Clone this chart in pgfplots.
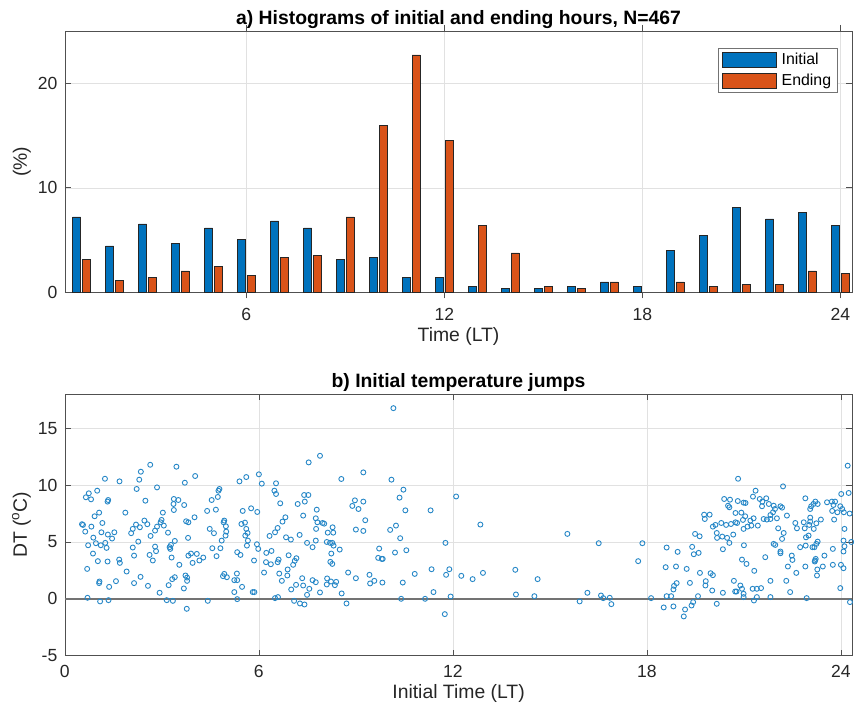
\documentclass[border=0pt]{standalone}
\usepackage{pgfplots}
\pgfplotsset{compat=1.18}
\usepackage{pgfplotstable}
\usepackage{fontspec}
\setmainfont{Liberation Sans}
\definecolor{mblue}{RGB}{0,114,189}
\definecolor{morange}{RGB}{217,83,25}
\definecolor{mgrid}{RGB}{225,225,225}
\definecolor{maxis}{RGB}{80,80,80}

\pgfplotstableread{
h init
1 7.22
2 4.45
3 6.55
4 4.68
5 6.17
6 5.09
7 6.84
8 6.17
9 3.15
10 3.37
11 1.46
12 1.46
13 0.54
14 0.35
15 0.35
16 0.54
17 1.01
18 0.54
19 4.04
20 5.47
21 8.12
22 7.03
23 7.64
24 6.40
}\initdata

\pgfplotstableread{
h ending
1 3.15
2 1.17
3 1.46
4 2.06
5 2.48
6 1.65
7 3.37
8 3.53
9 7.22
10 16.0
11 22.7
12 14.55
13 6.40
14 3.78
15 0.54
16 0.35
17 1.01
19 1.01
20 0.54
21 0.76
22 0.76
23 2.06
24 1.81
}\enddata

\pgfplotstableread{
t dt
2.64 11.79
3.45 11.62
2.35 11.18
1.24 10.56
1.69 10.33
2.30 10.48
3.71 10.21
2.85 9.80
2.22 9.66
1.00 9.51
0.74 9.28
0.65 8.93
0.81 8.75
1.34 8.69
1.32 8.55
2.49 8.63
3.37 8.78
3.51 8.69
3.36 8.34
3.69 8.25
1.87 7.58
1.06 7.58
0.92 7.26
3.03 7.58
3.37 7.81
0.53 6.56
0.56 6.50
0.82 6.35
1.16 6.67
2.46 6.88
2.20 6.53
2.55 6.56
2.99 6.94
2.96 6.73
3.75 6.82
3.82 6.73
0.63 5.91
2.10 6.15
2.32 6.29
2.85 6.35
3.06 6.44
2.79 6.00
1.13 5.85
1.53 5.85
1.33 5.65
2.05 5.77
2.65 5.53
3.19 5.82
0.88 5.38
1.46 5.30
0.96 4.89
1.11 4.71
1.25 4.92
0.72 4.71
1.29 4.48
2.27 5.03
3.40 5.09
3.81 5.36
2.10 4.51
2.79 4.59
3.28 4.74
3.24 4.54
3.26 4.39
0.87 3.98
2.14 3.80
2.62 3.86
2.82 4.19
2.72 3.37
3.30 3.63
1.02 3.31
1.32 3.28
1.68 3.45
1.70 3.16
3.54 2.99
3.82 3.80
3.90 3.98
0.69 2.63
1.91 2.40
2.34 1.93
1.07 1.52
1.06 1.38
1.58 1.55
3.40 1.90
3.32 1.73
3.73 2.05
3.78 1.87
3.78 1.58
1.37 1.05
2.14 1.38
2.57 1.14
3.21 1.20
3.68 0.91
2.93 0.53
0.70 0.09
1.09 -0.23
1.35 -0.12
3.15 -0.12
3.34 -0.18
3.77 -0.88
7.54 12.00
4.03 10.80
5.40 10.33
5.61 10.71
6.00 10.95
6.09 10.13
6.53 10.16
4.78 9.66
4.75 9.51
6.48 9.51
6.53 9.22
7.40 9.13
7.53 9.13
4.54 8.69
4.73 8.96
6.66 8.40
7.42 8.55
7.20 8.34
4.40 7.73
4.67 7.84
5.50 7.73
5.76 7.96
5.95 7.64
4.01 7.17
7.37 7.32
7.79 7.84
4.93 6.88
4.91 6.73
5.46 6.58
5.57 6.70
6.82 7.17
6.73 6.79
7.76 7.08
7.81 6.73
4.48 6.15
4.61 5.77
4.98 6.38
4.99 5.91
4.97 5.56
5.61 6.15
5.65 5.79
5.58 5.56
6.58 6.23
6.50 5.85
6.33 5.53
6.84 5.41
6.99 5.21
7.26 5.62
7.77 6.15
4.85 5.12
4.56 4.45
4.81 4.45
5.66 5.12
5.63 4.68
5.94 4.80
5.98 4.39
7.49 4.92
7.66 4.54
7.76 5.12
4.08 3.95
4.28 3.63
4.16 3.37
3.95 3.16
4.69 3.75
5.33 4.10
5.43 3.86
6.23 4.04
6.39 4.21
5.85 3.37
6.22 3.22
6.37 3.04
6.61 3.45
6.58 3.22
6.92 3.83
7.16 3.57
7.11 3.34
7.06 2.99
4.93 2.19
4.89 1.99
5.01 1.90
5.32 2.22
5.24 1.64
5.33 1.64
6.16 2.31
6.63 2.22
6.89 2.58
6.88 2.05
6.71 1.58
7.34 1.81
7.66 1.64
7.76 1.46
5.48 1.05
5.24 0.59
5.81 0.59
5.86 0.59
7.15 1.23
7.00 0.82
7.37 1.17
7.56 0.88
7.49 0.35
4.42 -0.18
5.33 -0.03
6.50 0.06
6.59 0.15
7.09 -0.18
7.27 -0.41
7.41 -0.50
10.16 16.77
7.89 12.58
9.23 11.12
8.55 10.54
10.10 10.48
10.47 9.60
10.35 8.90
8.97 8.66
9.23 8.55
8.89 8.17
9.08 7.90
10.53 7.78
11.31 7.78
7.97 6.67
8.02 6.61
8.28 6.29
8.13 5.82
8.30 5.82
9.29 6.91
9.00 6.09
9.23 5.97
10.24 6.44
10.06 6.06
10.37 5.33
8.10 5.00
8.20 4.92
8.31 4.68
8.27 4.92
8.50 4.33
8.24 3.98
8.21 3.25
8.27 3.07
9.72 4.42
9.69 3.60
9.80 3.51
9.83 3.51
10.21 4.07
10.56 4.27
11.77 4.92
8.76 2.31
9.00 1.81
9.42 2.11
9.57 1.58
9.44 1.35
9.82 1.43
10.82 2.19
11.34 2.60
11.79 2.11
11.89 2.60
8.11 1.79
8.10 1.26
8.23 1.52
8.39 1.49
8.35 1.20
7.89 0.56
8.56 0.47
8.71 -0.41
10.45 1.43
11.40 0.59
10.40 0.00
11.14 0.00
11.93 0.20
11.75 -1.35
12.10 9.00
12.85 6.53
15.54 5.71
16.51 4.89
17.86 4.89
17.73 3.31
13.93 2.55
12.93 2.28
12.26 2.02
12.61 1.73
14.62 1.73
13.95 0.38
14.52 0.23
16.16 0.53
15.92 -0.23
16.58 0.29
16.65 0.06
16.85 0.09
16.90 -0.47
20.82 10.56
20.39 8.78
20.57 8.72
20.81 8.60
20.99 8.46
21.05 8.43
20.51 8.19
20.55 8.05
20.74 7.55
20.92 7.58
19.77 7.40
19.94 7.40
19.79 7.02
20.12 6.50
20.04 6.35
20.30 6.67
20.45 6.50
20.60 6.58
20.74 6.73
20.79 6.67
20.97 6.94
21.04 7.26
19.49 5.71
19.63 5.50
20.16 5.79
20.17 5.36
20.33 5.47
20.48 5.36
20.55 4.92
20.67 5.65
20.99 6.15
21.11 6.35
18.61 4.51
18.95 4.13
19.40 4.57
19.60 4.04
19.45 3.92
20.35 4.36
21.00 4.71
18.58 2.78
18.90 2.84
19.23 2.63
19.64 2.28
19.97 2.25
20.04 2.08
20.94 3.45
21.08 3.07
19.33 1.40
19.82 1.55
19.81 1.17
18.92 1.38
18.84 1.14
18.82 0.82
20.02 0.73
20.35 0.53
20.69 1.58
20.89 1.17
20.94 0.88
20.73 0.64
20.77 0.64
20.99 0.44
19.58 0.23
18.75 0.23
18.61 0.23
18.13 0.06
18.52 -0.76
18.82 -0.67
19.18 -0.94
19.14 -1.55
19.38 -0.59
19.43 -0.29
20.16 -0.44
20.99 0.15
24.21 11.71
22.21 9.89
21.36 9.51
21.28 8.99
21.49 8.78
21.69 8.84
21.57 8.55
21.56 8.14
21.77 8.34
21.92 8.19
21.96 7.90
22.13 8.14
22.18 8.02
21.90 7.61
21.82 7.37
22.90 8.84
23.21 8.55
23.15 8.34
23.08 8.14
23.05 7.90
23.28 8.34
23.57 8.49
23.72 8.55
23.82 8.55
23.77 8.25
23.98 8.14
24.04 7.90
24.01 9.22
24.24 9.31
23.89 7.61
23.73 7.73
21.20 6.88
21.30 7.08
21.43 6.44
21.23 6.44
21.61 7.02
21.71 6.97
21.82 7.02
22.02 7.08
22.33 7.32
22.59 6.67
22.64 6.20
22.85 6.73
22.88 6.20
23.05 6.79
23.05 7.14
23.02 6.50
23.24 6.64
23.38 6.97
23.16 6.15
23.79 6.97
24.09 7.61
24.11 6.15
22.06 6.20
22.23 5.79
22.18 5.27
21.92 4.83
21.97 4.74
22.92 5.41
23.00 5.56
22.91 4.68
23.24 4.83
23.28 5.03
23.12 4.54
23.18 4.54
23.49 3.80
22.74 4.54
22.13 4.16
22.13 4.01
22.48 3.80
22.50 3.42
21.66 3.66
23.75 4.39
24.08 5.12
24.11 4.62
24.08 4.16
21.32 2.46
22.36 2.84
22.62 2.28
22.90 2.84
23.20 3.37
23.22 3.51
23.19 3.28
23.27 2.58
23.26 2.05
23.44 2.84
23.75 2.99
24.00 2.99
24.08 2.69
21.82 1.58
22.31 1.58
21.27 0.88
21.40 0.88
21.53 0.94
22.43 0.59
23.98 0.94
21.31 -0.15
21.40 0.15
21.82 0.15
22.94 0.06
24.28 -0.29
24.27 7.50
24.32 5.00
}\scatdata

\pgfplotsset{
  mstyle/.style={
    scale only axis,
    axis line style={maxis, line width=0.7pt},
    tick style={maxis, line width=0.7pt},
    major tick length=6pt,
    tick align=inside,
    grid=major,
    major grid style={mgrid, line width=0.6pt},
    /pgf/number format/assume math mode=true,
    tick label style={font=\fontsize{17.6}{20}\selectfont, text=black!85},
    xticklabel style={yshift=-6pt},
    yticklabel style={xshift=-4pt},
    label style={font=\fontsize{19.4}{22}\selectfont, text=black!85},
    title style={font=\fontsize{19.4}{22}\selectfont\bfseries, text=black, yshift=-7pt},
  },
  barlegend/.style={legend image code/.code={\draw[##1] (0pt,-7.5pt) rectangle (54pt,7.5pt);}},
}

\begin{document}
\begin{tikzpicture}
\path (0pt,0pt) rectangle (854pt,709pt);

\begin{axis}[mstyle,
  at={(65pt,416pt)}, anchor=south west,
  width=789pt, height=262pt,
  xmin=0.5, xmax=24.36, ymin=0, ymax=25,
  xtick={6,12,18,24}, ytick={0,10,20},
  ybar, bar width=0.24,
  title={a) Histograms of initial and ending hours, N=467},
  xlabel={Time (LT)}, ylabel={(\%)},
  legend style={at={(0.981,0.935)}, anchor=north east, draw=black!55,
    font=\fontsize{15.9}{18}\selectfont, row sep=5pt, column sep=3pt,
    inner xsep=4pt, inner ysep=4pt,
    nodes={inner xsep=2pt, inner ysep=0pt},
    cells={anchor=west}},
]
\addplot[fill=mblue, draw=black!85, line width=0.5pt, bar shift=-0.145, barlegend]
  table[x=h, y=init] {\initdata};
\addlegendentry{Initial}
\addplot[fill=morange, draw=black!85, line width=0.5pt, bar shift=0.145, barlegend]
  table[x=h, y=ending] {\enddata};
\addlegendentry{Ending}
\end{axis}

\begin{axis}[mstyle,
  at={(65pt,52pt)}, anchor=south west,
  width=789pt, height=262pt,
  xmin=0, xmax=24.35, ymin=-5, ymax=18,
  xtick={0,6,12,18,24}, ytick={-5,0,5,10,15},
  title={b) Initial temperature jumps},
  xlabel={Initial Time (LT)}, ylabel={DT (\textsuperscript{o}C)},
]
\addplot[black!55, line width=1.8pt, forget plot] coordinates {(0,0) (24.35,0)};
\addplot[only marks, mark=o, mark size=2.5pt, color=mblue!85!white,
  mark options={line width=0.9pt}] table[x=t, y=dt] {\scatdata};
\end{axis}
\end{tikzpicture}
\end{document}
